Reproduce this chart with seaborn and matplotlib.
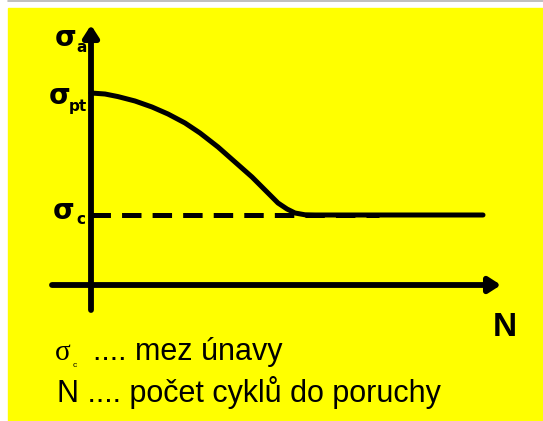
import numpy as np
import matplotlib
matplotlib.use("Agg")
import matplotlib.pyplot as plt
from matplotlib.patches import Rectangle
from matplotlib.lines import Line2D
import seaborn as sns

# Wöhlerova křivka (libovolné jednotky)
N_krivka = [0.0, 0.35, 0.675, 1.1, 1.525, 1.925, 2.35, 2.725, 3.175, 3.6,
            4.025, 4.35, 4.675, 4.9, 5.1, 5.35, 5.6, 9.8]
sigma_krivka = [4.8, 4.775, 4.71, 4.6, 4.45, 4.275, 4.05, 3.8, 3.45, 3.075,
                2.7, 2.375, 2.05, 1.9, 1.8, 1.755, 1.75, 1.75]

# mez únavy - čárkovaná čára
N_mez = [0.0, 7.2]
sigma_mez = [1.75, 1.75]

popisky = ["σ .... mez únavy", "N .... počet cyklů do poruchy"]

sns.set_theme(style="white")
plt.rcParams["font.family"] = ["Liberation Sans", "DejaVu Sans"]
plt.rcParams["text.color"] = "black"
plt.rcParams["lines.scale_dashes"] = False

fig = plt.figure(figsize=(5.43, 4.21), dpi=100)
fig.patch.set_facecolor("white")
fig.patches.append(Rectangle((8 / 543, 0), 1, 413 / 421, transform=fig.transFigure,
                             color="#ffff00", zorder=-5))
fig.add_artist(Line2D([8 / 543, 1], [1 - 1 / 421] * 2, color="#b4b4b4", lw=1.2, zorder=-4))

ax = fig.add_axes([0, 0, 1, 1])
ax.set_xlim(-2.275, 11.3)
ax.set_ylim(-3.4, 7.125)
ax.axis("off")
ax.patch.set_alpha(0)

# osy se šipkami
sipka = dict(arrowstyle="-|>,head_length=0.7,head_width=0.45", lw=4.2, color="black",
             shrinkA=0, shrinkB=0, mutation_scale=10, joinstyle="round")
ax.annotate("", xy=(0, 6.5), xytext=(0, -0.625), arrowprops=sipka)
ax.annotate("", xy=(10.25, 0), xytext=(-0.975, 0), arrowprops=sipka)

# křivka a mez únavy
sns.lineplot(x=N_mez, y=sigma_mez, ax=ax, color="black", lw=3.6)
ax.lines[-1].set_dashes((14, 8))
ax.lines[-1].set_dash_capstyle("butt")
sns.lineplot(x=N_krivka, y=sigma_krivka, ax=ax, color="black", lw=3.6, sort=False)
ax.lines[-1].set_solid_capstyle("round")

# popisky osy y
tuc = dict(fontweight="heavy", color="black", family=["DejaVu Sans"])
ax.text(-0.625, 6.175, "σ", fontsize=20, ha="center", va="center", **tuc)
ax.text(-0.24, 5.95, "a", fontsize=11, ha="center", va="center", **tuc)
ax.text(-0.775, 4.725, "σ", fontsize=20, ha="center", va="center", **tuc)
ax.text(-0.33, 4.47, "pt", fontsize=11, ha="center", va="center", **tuc)
ax.text(-0.675, 1.85, "σ", fontsize=20, ha="center", va="center", **tuc)
ax.text(-0.26, 1.63, "c", fontsize=11, ha="center", va="center", **tuc)
ax.text(10.35, -0.68, "N", fontsize=24, fontweight="heavy", ha="center", va="top")

# vysvětlivky
ax.text(-0.9, -1.87, "σ", fontsize=21, family=["Liberation Serif"], ha="left", va="baseline")
ax.text(-0.4, -2.05, "c", fontsize=6, ha="center", va="baseline")
ax.text(0.05, -1.87, popisky[0].split(" ", 1)[1], fontsize=22, ha="left", va="baseline")
ax.text(-0.85, -2.92, popisky[1], fontsize=22, ha="left", va="baseline")

fig.savefig("out.png", dpi=100)
